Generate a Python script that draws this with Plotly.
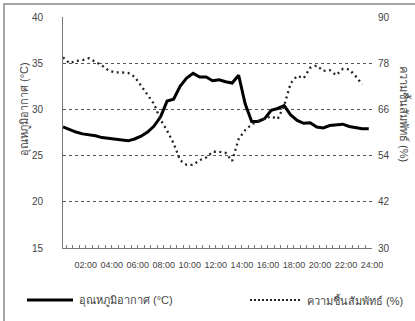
import plotly.graph_objects as go

# ---- data ----
# half-hour samples, hours of day
times = [0.25 + 0.5 * k for k in range(48)]
temperature = [28.1, 27.8, 27.55, 27.35, 27.25, 27.15, 26.95, 26.85, 26.8, 26.65,
               26.6, 26.8, 27.1, 27.55, 28.2, 29.2, 30.9, 31.1, 32.5, 33.4,
               33.9, 33.5, 33.5, 33.1, 33.2, 33.0, 32.85, 33.7, 30.6, 28.7,
               28.7, 29.0, 29.9, 30.1, 30.4, 29.4, 28.8, 28.5, 28.55, 28.1,
               28.0, 28.25, 28.35, 28.4, 28.15, 28.0, 27.9, 27.9]
humidity = [79.5, 78.0, 78.6, 78.8, 79.3, 78.3, 77.4, 76.1, 75.6, 75.6,
            75.5, 74.5, 72.3, 69.8, 67.4, 63.3, 60.5, 57.2, 52.8, 51.6,
            51.6, 52.8, 53.5, 55.0, 55.0, 54.7, 52.6, 58.3, 60.6, 62.1,
            63.0, 63.5, 64.2, 63.5, 67.0, 72.8, 74.7, 74.1, 76.8, 77.4,
            76.0, 76.2, 74.9, 76.5, 76.4, 74.6, 72.5]
hum_times = times[:len(humidity)]

tick_hours = [2, 4, 6, 8, 10, 12, 14, 16, 18, 20, 22, 24]
tick_labels = ["02:00", "04:00", "06:00", "08:00", "10:00", "12:00",
               "14:00", "16:00", "18:00", "20:00", "22:00", "24:00"]
left_ticks = [15, 20, 25, 30, 35, 40]
right_ticks = [30, 42, 54, 66, 78, 90]

name_temp = "อุณหภูมิอากาศ (°C)"
name_hum = "ความชื้นสัมพัทธ์ (%)"

FONT = "Liberation Sans, Arial, Noto Sans, DejaVu Sans, sans-serif"
TXT = "#444444"
AX = "#777777"

fig = go.Figure()
fig.add_trace(go.Scatter(x=times, y=temperature, mode="lines", name=name_temp,
                         line=dict(color="#000000", width=3), yaxis="y",
                         showlegend=False))
fig.add_trace(go.Scatter(x=hum_times, y=humidity, mode="lines", name=name_hum,
                         line=dict(color="#222222", width=2.3, dash="2px,3.5px"),
                         yaxis="y2", showlegend=False))

W, H = 415, 321
L, R, T, B = 63, 43, 17, 73
pw, ph = W - L - R, H - T - B


def px(xp):
    return (xp - L) / pw


def py(yp):
    return (H - B - yp) / ph


fig.update_layout(
    width=W, height=H,
    margin=dict(l=L, r=R, t=T, b=B, autoexpand=False),
    paper_bgcolor="white", plot_bgcolor="white",
    font=dict(family=FONT, size=10, color=TXT),
    xaxis=dict(range=[0.25, 24], tickvals=tick_hours, ticktext=tick_labels,
               ticks="inside", ticklen=3, tickcolor=AX, tickwidth=1,
               minor=dict(dtick=0.5, tick0=0, ticks="inside", ticklen=3,
                          tickcolor=AX, tickwidth=1),
               showline=True, linecolor=AX, linewidth=1, showgrid=False,
               zeroline=False, ticklabelstandoff=8,
               tickfont=dict(size=9, color=TXT)),
    yaxis=dict(range=[15, 40], tickvals=left_ticks, showline=True,
               linecolor=AX, linewidth=1, showgrid=True, gridcolor="#555555",
               griddash="dot", gridwidth=1, zeroline=False, ticks="",
               ticklabelstandoff=17, tickfont=dict(size=10, color=TXT)),
    yaxis2=dict(range=[30, 90], tickvals=right_ticks, overlaying="y",
                side="right", showline=False, showgrid=False, zeroline=False,
                ticks="", ticklabelstandoff=5,
                tickfont=dict(size=10, color=TXT)),
)

# frame (top + left border)
fig.add_shape(type="path", xref="paper", yref="paper",
              path=f"M {px(4)},{py(330)} L {px(4)},{py(4)} L {px(420)},{py(4)}",
              line=dict(color="#888888", width=1.5))

# axis titles
fig.add_annotation(text=name_temp, xref="paper", yref="paper", x=px(25), y=py(109),
                   xanchor="center", yanchor="middle",
                   textangle=-90, showarrow=False, font=dict(size=11, color=TXT))
fig.add_annotation(text=name_hum, xref="paper", yref="paper", x=px(405), y=py(114),
                   xanchor="center", yanchor="middle",
                   textangle=90, showarrow=False, font=dict(size=11, color=TXT))

# legend (drawn manually)
fig.add_shape(type="line", xref="paper", yref="paper", x0=px(27), x1=px(73),
              y0=py(300), y1=py(300), line=dict(color="#000000", width=3))
fig.add_annotation(text=name_temp, xref="paper", yref="paper", x=px(77), y=py(300),
                   xanchor="left", yanchor="middle", align="left", showarrow=False,
                   font=dict(size=11, color=TXT))
fig.add_shape(type="line", xref="paper", yref="paper", x0=px(250), x1=px(301),
              y0=py(300), y1=py(300),
              line=dict(color="#222222", width=2, dash="2px,2px"))
fig.add_annotation(text=name_hum, xref="paper", yref="paper", x=px(305), y=py(300),
                   xanchor="left", yanchor="middle", align="left", showarrow=False,
                   font=dict(size=11, color=TXT))

fig.write_html("out.html")
